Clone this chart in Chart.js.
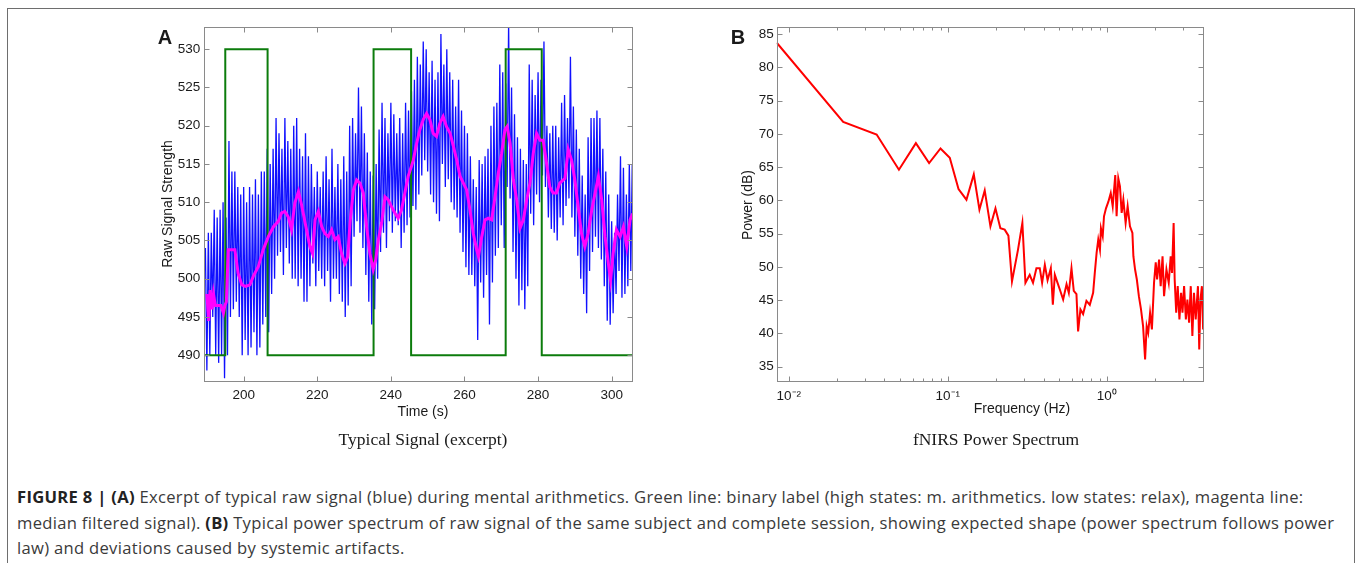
<!DOCTYPE html>
<html>
<head>
<meta charset="utf-8">
<title>Figure 8</title>
<script src="https://cdn.jsdelivr.net/npm/chart.js@4.4.1/dist/chart.umd.min.js"></script>
<style>
  body { margin: 0; width: 1360px; height: 563px; overflow: hidden; position: relative; background: #fff; font-family: "Liberation Sans", Arial, sans-serif; color: #1a1a1a; }
  .frame { position: absolute; left: 7px; top: 8px; width: 1346px; height: 620px; border: 1.5px solid #6e6e6e; border-bottom: none; }
  canvas { position: absolute; top: 0; }
  #chartA { left: 150px; }
  #chartB { left: 720px; }
  .txt { position: absolute; white-space: nowrap; }
  .letter { font-weight: bold; font-size: 20px; transform: translate(-50%, -50%); }
  .ylab { font-size: 14px; transform: translate(-50%, -50%) rotate(-90deg); }
  .xlab { font-size: 14px; transform: translate(-50%, -50%); }
  .sub { font-family: "Liberation Serif", "Times New Roman", serif; font-size: 17.5px; transform: translate(-50%, -50%); }
  .caption { position: absolute; left: 17px; top: 484px; font-family: "Open Sans", "Liberation Sans", sans-serif; font-size: 16.6px; letter-spacing: 0.3px; line-height: 25.5px; color: #3a3a3a; white-space: nowrap; }
  .caption b { color: #222; }
</style>
</head>
<body>
<div class="frame"></div>
<canvas id="chartA" width="510" height="422"></canvas>
<canvas id="chartB" width="510" height="422"></canvas>

<div class="txt letter" style="left:165px; top:37px;">A</div>
<div class="txt letter" style="left:738px; top:37px;">B</div>
<div class="txt ylab" style="left:167px; top:204px;">Raw Signal Strength</div>
<div class="txt xlab" style="left:423px; top:411px;">Time (s)</div>
<div class="txt ylab" style="left:747px; top:205px;">Power (dB)</div>
<div class="txt xlab" style="left:1022px; top:408px;">Frequency (Hz)</div>
<div class="txt sub" style="left:423px; top:439px;">Typical Signal (excerpt)</div>
<div class="txt sub" style="left:996px; top:439px;">fNIRS Power Spectrum</div>

<div class="caption"><b>FIGURE 8 | (A)</b> Excerpt of typical raw signal (blue) during mental arithmetics. Green line: binary label (high states: m. arithmetics. low states: relax), magenta line:<br>median filtered signal). <b>(B)</b> Typical power spectrum of raw signal of the same subject and complete session, showing expected shape (power spectrum follows power<br>law) and deviations caused by systemic artifacts.</div>

<script>
// ---- Panel A: raw signal excerpt ----
// one spike every 0.8 s: peak, then trough half a step later
const rawStart = 189.6;
const rawStep = 0.8;
const rawPeaks = [
  504, 506, 506, 509, 508, 509, 510, 508, 518, 514,
  514, 512, 511, 512, 510, 512, 511, 513, 511, 514,
  514, 517, 515, 517, 521, 519, 517, 521, 518, 517,
  520, 521, 517, 516, 519, 516, 515, 512, 514, 512,
  514, 516, 513, 517, 512, 515, 513, 516, 514, 520,
  521, 519, 525, 522.5, 519, 516.5, 514, 513.5, 515, 519.5,
  523, 521, 519, 523, 521.5, 519, 521, 519, 523, 522,
  524.5, 526, 529, 528, 531, 530, 527, 528.5, 526, 527,
  532, 528, 530, 527, 526, 522.5, 526, 522, 520, 519,
  516, 513, 512, 515.5, 515, 516, 517, 520, 522.5, 523,
  528, 527, 525.5, 533.5, 525, 521.5, 518.5, 517, 515.5, 515,
  528, 526, 524, 527, 526, 531, 520, 519, 520, 520,
  518.5, 523, 524, 521, 529, 522.5, 519.5, 517, 513.5, 511,
  518.5, 521, 521, 522, 521, 517, 514, 511, 507.5, 506, 511, 516, 514.5, 511, 515, 515
];
const rawTroughs = [
  488, 490, 495, 490, 489, 490, 487, 490, 495, 496,
  497, 495, 490, 492, 490, 491, 493, 490, 491, 494,
  495, 493, 498, 500, 503, 503.5, 500.5, 504, 502, 500,
  500, 499, 500, 497, 497, 499, 502, 499, 501, 500,
  499, 501, 497, 500, 500, 498, 497, 495, 496.5, 499,
  505.5, 507.5, 506, 504, 500.5, 497, 494, 496, 500, 503.5,
  506, 504, 507.5, 506, 507.5, 507, 504, 506, 507, 508,
  509.5, 509, 511, 513.5, 515.5, 514, 511, 510, 508.5, 507.5,
  515, 512, 513, 510, 509, 508, 506, 503.5, 501.5, 500.5,
  500.5, 499, 492, 499.5, 497.5, 500.5, 494, 499.5, 503, 504,
  507, 504, 512, 510.5, 503.5, 500, 496.5, 498.5, 496, 499,
  508.5, 507, 511, 510, 513.5, 512, 508, 506.5, 506, 505,
  508, 507, 509.5, 510.5, 508, 505.5, 503, 500, 498, 495.5,
  501, 503.5, 505.5, 504, 502.5, 499, 494.5, 494, 495.5, 498, 501, 497.5, 498, 499, 501, 503.5
];

// median filtered signal (magenta)
const medTime = [
  190.0, 190.5, 190.9, 191.4, 191.8, 192.3, 193.0, 193.8, 194.5, 194.9,
  195.3, 195.8, 196.8, 197.6, 198.5, 199.5, 200.5, 201.7, 202.6, 204.0,
  205.3, 206.7, 208.1, 209.4, 210.3, 211.2, 212.1, 213.0, 213.9, 214.9,
  215.8, 216.7, 218.0, 218.7, 219.4, 220.3, 221.2, 222.1, 223.0, 223.9,
  224.8, 225.7, 226.6, 227.5, 228.3, 228.9, 229.8, 230.7, 231.6, 232.5,
  233.4, 234.3, 235.2, 235.9, 236.6, 237.5, 238.4, 239.3, 240.2, 241.1,
  242.0, 242.9, 243.8, 244.7, 245.6, 246.1, 247.0, 247.9, 248.8, 249.7,
  250.6, 251.5, 252.4, 253.3, 254.2, 255.1, 256.1, 257.0, 257.9, 258.8,
  259.7, 260.6, 261.5, 262.4, 263.3, 263.8, 264.7, 265.6, 266.5, 267.4,
  268.3, 269.2, 270.1, 271.0, 271.6, 272.4, 273.3, 274.2, 275.1, 276.0,
  276.9, 277.8, 278.7, 279.6, 280.5, 281.4, 282.3, 283.2, 284.1, 285.0,
  285.9, 287.3, 288.2, 289.1, 290.0, 290.9, 291.8, 292.7, 293.6, 294.6,
  295.5, 296.4, 297.3, 298.2, 299.1, 299.7, 300.4, 301.3, 302.3, 303.2,
  304.1, 305.0, 305.7
];
const medValue = [
  498, 494.5, 498.5, 496, 498, 496.5, 496.5, 496.5, 495.5, 496.5,
  497, 503.8, 503.8, 503.8, 500.7, 499.2, 499, 499.2, 500.3, 501.6,
  503.8, 505.5, 506.8, 507.5, 508.6, 508.8, 508.1, 506.4, 509.9, 511.4,
  509.5, 507.3, 504.2, 503.3, 507.7, 508.8, 506.8, 505.9, 505.5, 506.4,
  505.1, 505.5, 503.3, 502.0, 502.9, 507.3, 511.6, 512.9, 512.5, 511.2,
  506.8, 503.3, 501.2, 502.5, 505.1, 507.3, 510.7, 510.3, 509.4, 508.6,
  507.9, 509.0, 511.2, 513.4, 514.7, 515.5, 517.7, 519.5, 520.8, 521.6,
  520.8, 519.0, 518.6, 520.3, 521.2, 519.9, 519.0, 517.3, 515.5, 513.4,
  512.5, 511.6, 509.0, 505.9, 503.8, 502.9, 505.5, 507.7, 507.9, 507.7,
  510.7, 513.8, 516.4, 519.5, 519.9, 517.7, 512.9, 510.3, 506.6, 507.7,
  510.3, 512.5, 516.4, 519.0, 518.1, 518.1, 515.1, 512.0, 511.2, 511.2,
  512.5, 513.1, 516.9, 515.5, 512.9, 509.4, 505.9, 504.2, 505.9, 509.0,
  511.2, 513.4, 510.3, 505.5, 502.0, 499.8, 503.3, 506.4, 505.5, 506.8,
  504.2, 507.7, 508.5
];

// binary label (green): high = mental arithmetics, low = relax
const labelTime = [189.3, 195, 195, 206.5, 206.5, 235.3, 235.3, 245.5, 245.5, 271.2, 271.2, 281, 281, 305.8];
const labelValue = [490, 490, 530, 530, 490, 490, 530, 530, 490, 490, 530, 530, 490, 490];

const timeTicks = [200, 220, 240, 260, 280, 300];
const signalTicks = [490, 495, 500, 505, 510, 515, 520, 525, 530];

// ---- Panel B: power spectrum ----
const specFreq = [
  0.0084, 0.0220, 0.0357, 0.0493, 0.0630, 0.0763, 0.0900, 0.1029, 0.1168, 0.1310,
  0.1457, 0.1581, 0.1707, 0.1854, 0.1994, 0.2141, 0.2279, 0.2405, 0.2533, 0.2764,
  0.2944, 0.3077, 0.3274, 0.3435, 0.3608, 0.3787, 0.3918, 0.4075, 0.4240, 0.4444,
  0.4576, 0.4710, 0.4898, 0.5063, 0.5312, 0.5580, 0.5766, 0.5994, 0.6196, 0.6441,
  0.6597, 0.6822, 0.7093, 0.7444, 0.7813, 0.8200, 0.8400, 0.8623, 0.8833, 0.9052,
  0.9181, 0.9421, 0.9597, 0.9879, 1.0226, 1.0581, 1.0887, 1.1297, 1.1519, 1.1805,
  1.2091, 1.2394, 1.2700, 1.3127, 1.3516, 1.3978, 1.4480, 1.4686, 1.505, 1.544,
  1.59, 1.64, 1.69, 1.74, 1.78, 1.82, 1.87, 1.92, 1.98, 2.03,
  2.07, 2.13, 2.18, 2.24, 2.29, 2.37, 2.45, 2.52, 2.57, 2.63,
  2.67, 2.73, 2.79, 2.86, 2.93, 2.99, 3.06, 3.14, 3.21, 3.29,
  3.37, 3.45, 3.53, 3.62, 3.74, 3.81, 3.88, 3.96, 4.03
];
const specPower = [
  83.7, 71.8, 69.9, 64.6, 68.6, 65.6, 67.8, 66.4, 61.7, 60.1,
  63.9, 58.6, 61.5, 56.1, 58.8, 55.8, 55.6, 54.7, 47.8, 52.6,
  56.6, 47.6, 48.8, 47.6, 49.8, 49.8, 47.6, 50.3, 48.0, 49.8,
  44.3, 48.8, 47.6, 46.6, 45.1, 47.4, 46.1, 49.8, 46.4, 45.9,
  40.3, 43.6, 42.9, 44.9, 44.3, 46.1, 49.1, 52.1, 54.1, 52.6,
  55.8, 54.6, 57.6, 58.8, 59.8, 61.1, 59.1, 63.8, 57.6, 63.3,
  62.1, 58.1, 60.1, 56.6, 59.1, 56.1, 55.1, 51.6, 49.6, 48.1,
  45.6, 43.6, 41.1, 36.1, 41.1, 40.1, 43.1, 40.6, 47.6, 50.7,
  48.1, 51.1, 47.1, 51.6, 45.6, 49.6, 47.6, 51.6, 49.1, 56.6,
  48.1, 43.1, 47.1, 42.1, 46.1, 43.1, 47.1, 42.1, 45.1, 41.6,
  47.1, 39.6, 46.1, 42.1, 47.1, 37.6, 45.1, 47.1, 40.6
];

const freqTicks = [0.01, 0.1, 1];
const freqTickLabels = ["10\u207B\u00B2", "10\u207B\u00B9", "10\u2070"];
const freqMinorTicks = [0.02, 0.03, 0.04, 0.05, 0.06, 0.07, 0.08, 0.09,
  0.2, 0.3, 0.4, 0.5, 0.6, 0.7, 0.8, 0.9, 2, 3, 4];
const powerTicks = [35, 40, 45, 50, 55, 60, 65, 70, 75, 80, 85];

// ---- build point lists ----
const rawPoints = [];
rawPeaks.forEach((v, i) => {
  const t = rawStart + i * rawStep;
  rawPoints.push({ x: t, y: v });
  rawPoints.push({ x: t + rawStep / 2, y: rawTroughs[i] });
});
const medPoints = medTime.map((t, i) => ({ x: t, y: medValue[i] }));
const labelPoints = labelTime.map((t, i) => ({ x: t, y: labelValue[i] }));
const specPoints = specFreq.map((f, i) => ({ x: f, y: specPower[i] }));

// MATLAB style box with inward ticks on all four sides
const boxTicks = {
  id: "boxTicks",
  afterDatasetsDraw(chart, args, opts) {
    const { ctx, chartArea: a, scales: { x, y } } = chart;
    const L = Math.round(a.left) + 0.5, R = Math.round(a.right) - 0.5;
    const T = Math.round(a.top) + 0.5, B = Math.round(a.bottom) - 0.5;
    ctx.save();
    ctx.strokeStyle = opts.color;
    ctx.lineWidth = 1;
    ctx.beginPath();
    const xTick = (v, len) => {
      const p = Math.round(x.getPixelForValue(v)) + 0.5;
      ctx.moveTo(p, B); ctx.lineTo(p, B - len);
      ctx.moveTo(p, T); ctx.lineTo(p, T + len);
    };
    x.ticks.forEach(t => xTick(t.value, opts.len));
    (opts.minorX || []).forEach(v => xTick(v, opts.minorLen));
    y.ticks.forEach(t => {
      const p = Math.round(y.getPixelForValue(t.value)) + 0.5;
      ctx.moveTo(L, p); ctx.lineTo(L + opts.len, p);
      ctx.moveTo(R, p); ctx.lineTo(R - opts.len, p);
    });
    ctx.stroke();
    ctx.strokeRect(L, T, R - L, B - T);
    ctx.restore();
  }
};

const tickFont = { family: "'Liberation Sans', Arial, sans-serif", size: 13.5 };
const tickColor = "#1a1a1a";
const noGrid = { display: false, drawTicks: false };

new Chart(document.getElementById("chartA"), {
  type: "line",
  data: {
    datasets: [
      // lower order is drawn on top
      { data: medPoints, borderColor: "#ff00ff", borderWidth: 3, clip: 0, order: 1 },
      { data: labelPoints, borderColor: "#0c7c0c", borderWidth: 2, clip: 0, order: 2 },
      { data: rawPoints, borderColor: "#1010ff", borderWidth: 1.3, clip: 0, order: 3 },
    ],
  },
  options: {
    responsive: false,
    animation: false,
    layout: { padding: { top: 27, right: 27, left: 0, bottom: 0 } },
    elements: { point: { radius: 0 }, line: { tension: 0 } },
    plugins: {
      legend: { display: false },
      tooltip: { enabled: false },
      boxTicks: { color: "#8a8a8a", len: 5 },
    },
    scales: {
      x: {
        type: "linear", min: 189.3, max: 305.8,
        grid: noGrid, border: { display: false },
        afterBuildTicks: s => { s.ticks = timeTicks.map(v => ({ value: v })); },
        afterFit: s => { s.height = 40; },
        ticks: { padding: 5, color: tickColor, font: tickFont, maxRotation: 0, autoSkip: false },
      },
      y: {
        type: "linear", min: 486.5, max: 532.9,
        grid: noGrid, border: { display: false },
        afterBuildTicks: s => { s.ticks = signalTicks.map(v => ({ value: v })); },
        afterFit: s => { s.width = 54.3; },
        ticks: { padding: 4, color: tickColor, font: tickFont, autoSkip: false },
      },
    },
  },
  plugins: [boxTicks],
});

new Chart(document.getElementById("chartB"), {
  type: "line",
  data: {
    datasets: [
      { data: specPoints, borderColor: "#ff0000", borderWidth: 2, clip: 0 },
    ],
  },
  options: {
    responsive: false,
    animation: false,
    layout: { padding: { top: 26.7, right: 25.7, left: 0, bottom: 0 } },
    elements: { point: { radius: 0 }, line: { tension: 0 } },
    plugins: {
      legend: { display: false },
      tooltip: { enabled: false },
      boxTicks: { color: "#8a8a8a", len: 5, minorX: freqMinorTicks, minorLen: 3 },
    },
    scales: {
      x: {
        type: "logarithmic", min: 0.0084, max: 4.1,
        grid: noGrid, border: { display: false },
        afterBuildTicks: s => { s.ticks = freqTicks.map(v => ({ value: v })); },
        afterFit: s => { s.height = 39.7; },
        ticks: {
          padding: 6, color: tickColor, font: tickFont, maxRotation: 0, autoSkip: false,
          callback: v => freqTickLabels[freqTicks.indexOf(v)],
        },
      },
      y: {
        type: "linear", min: 32.65, max: 86.1,
        grid: noGrid, border: { display: false },
        afterBuildTicks: s => { s.ticks = powerTicks.map(v => ({ value: v })); },
        afterFit: s => { s.width = 56.7; },
        ticks: { padding: 3, color: tickColor, font: tickFont, autoSkip: false },
      },
    },
  },
  plugins: [boxTicks],
});
</script>
</body>
</html>
